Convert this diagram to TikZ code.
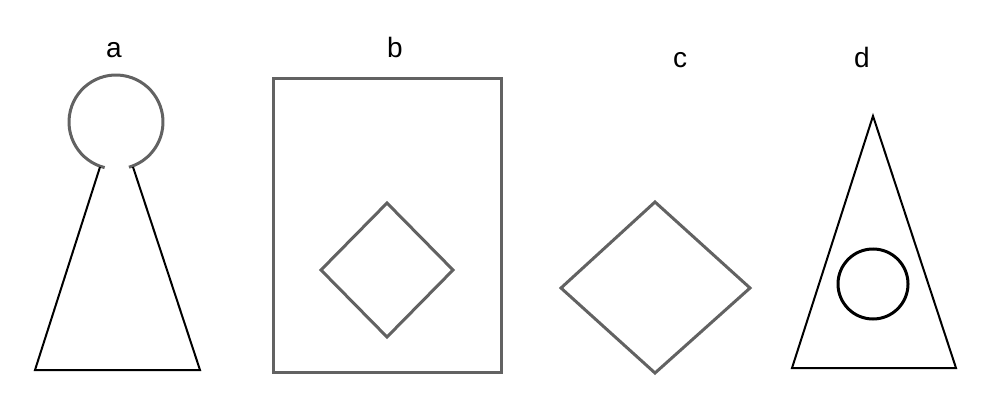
\documentclass[tikz,border=0pt]{standalone}
\usepackage{fontspec}
\setmainfont{Liberation Sans}
\definecolor{shapegray}{RGB}{98,98,98}
\newcommand{\figLabelSize}{\fontsize{14pt}{16pt}\selectfont}

\begin{document}
\begin{tikzpicture}[x=0.5pt, y=-0.5pt,
		grayline/.style={draw=shapegray, line width=1.5pt, line join=miter},
		blackline/.style={draw=black, line width=1pt, line join=miter},
		figlabel/.style={anchor=base, inner sep=0pt, font=\figLabelSize}]
	\useasboundingbox (0,0) rectangle (1004,406);
	% labels
	\node[figlabel] (labelA) at (114,58) {a};
	\node[figlabel] (labelB) at (395,58) {b};
	\node[figlabel] (labelC) at (680,68) {c};
	\node[figlabel] (labelD) at (862,68) {d};
	% a: head and body
	\coordinate (headA) at (116,122);
	\draw[grayline] (headA) ++(104:47) arc[start angle=104, end angle=434, radius=47];
	\coordinate (neckLA) at (100,167);
	\coordinate (neckRA) at (133,167);
	\coordinate (footLA) at (35,370);
	\coordinate (footRA) at (200,370);
	\draw[blackline] (neckLA) -- (footLA) -- (footRA) -- (neckRA);
	% b: frame with diamond
	\coordinate (frameB1) at (273,79);
	\coordinate (frameB2) at (501,372);
	\draw[grayline] (frameB1) rectangle (frameB2);
	\coordinate (diamondB) at (387,270);
	\draw[grayline] (diamondB) ++(0,-67) -- ++(66,67) -- ++(-66,67) -- ++(-66,-67) -- cycle;
	% c: diamond
	\coordinate (diamondC) at (655,288);
	\draw[grayline] (diamondC) ++(0,-86) -- ++(95,86) -- ++(-95,85) -- ++(-94,-85) -- cycle;
	% d: triangle with circle
	\coordinate (apexD) at (873,116);
	\coordinate (baseLD) at (792,368);
	\coordinate (baseRD) at (956,368);
	\draw[blackline] (apexD) -- (baseLD) -- (baseRD) -- cycle;
	\coordinate (ringD) at (873,284);
	\draw[blackline, line width=1.5pt] (ringD) circle[radius=35];
\end{tikzpicture}
\end{document}
